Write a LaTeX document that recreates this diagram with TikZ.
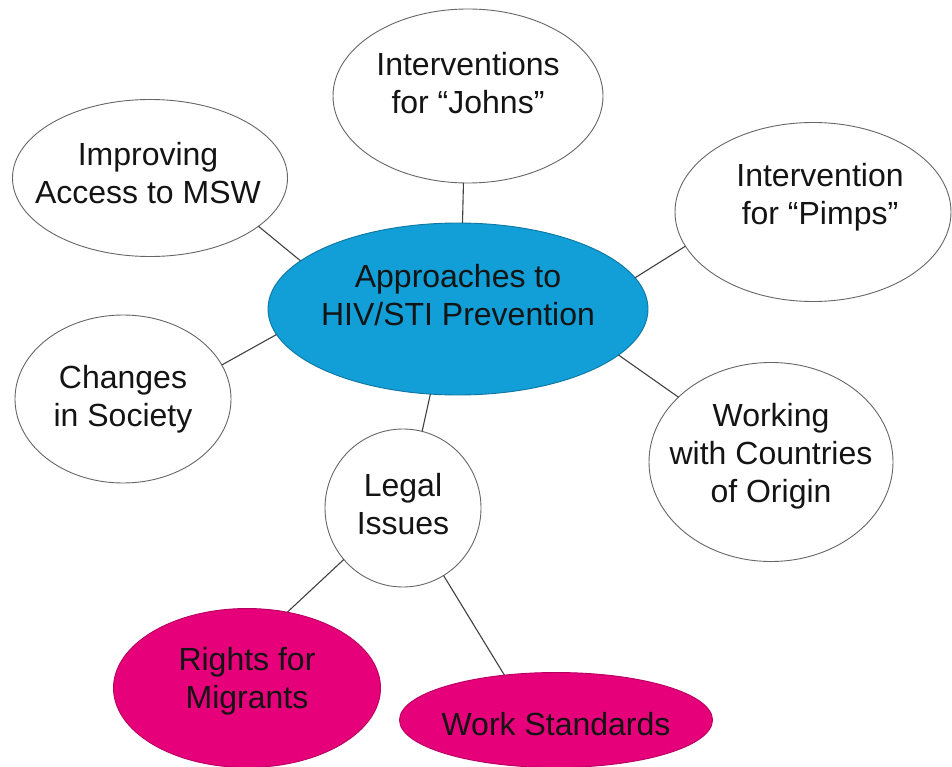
\documentclass[tikz,border=0pt]{standalone}
\usepackage{fontspec}
\setmainfont{Liberation Sans}
\usetikzlibrary{shapes.geometric}
\definecolor{pBlue}{RGB}{18,158,214}
\definecolor{pPink}{RGB}{230,0,122}
\definecolor{pLine}{gray}{0.25}
\tikzset{
    bub/.style={ellipse, draw=pLine!80, line width=0.9pt, fill=white, inner sep=0pt, outer sep=0pt},
    txt/.style={align=center, text=black!92, font=\fontsize{32}{38}\selectfont, inner sep=0pt},
    link/.style={draw=pLine, line width=1.1pt}
}

\begin{document}
\begin{tikzpicture}[x=1pt,y=-1pt]
\useasboundingbox (0,0) rectangle (952,767);
\node[bub, fill=pBlue, draw=pBlue!75!black, minimum width=380, minimum height=172,
      label={[txt, yshift=14]center:Approaches to\\HIV/STI Prevention}] (appr) at (458,309) {};
\node[bub, minimum width=270, minimum height=174,
      label={[txt, yshift=13]center:Interventions\\for “Johns”}] (johns) at (468,96) {};
\node[bub, minimum width=275, minimum height=157,
      label={[txt, yshift=5, xshift=-2]center:Improving\\Access to MSW}] (impr) at (150,178) {};
\node[bub, minimum width=276, minimum height=179,
      label={[txt, yshift=15, xshift=7]center:Intervention\\for “Pimps”}] (pimps) at (813,212) {};
\node[bub, minimum width=216, minimum height=168,
      label={[txt]center:Changes\\in Society}] (chng) at (123,399) {};
\node[bub, minimum width=244, minimum height=199,
      label={[txt, yshift=6]center:Working\\with Countries\\of Origin}] (work) at (771,462) {};
\node[bub, minimum width=156, minimum height=158,
      label={[txt, yshift=4]center:Legal\\Issues}] (legal) at (403,508) {};
\node[bub, fill=pPink, draw=pPink!80!black, minimum width=267, minimum height=159,
      label={[txt, yshift=7]center:Rights for\\Migrants}] (rights) at (247,688) {};
\node[bub, fill=pPink, draw=pPink!80!black, minimum width=313, minimum height=95,
      label={[txt, yshift=-4]center:Work Standards}] (wstd) at (556,720) {};
\draw[link] (impr.-24) -- (appr.163);
\draw[link] (johns.-93) -- (appr.87);
\draw[link] (pimps.-165) -- (appr.10);
\draw[link] (chng.19) -- (appr.-172);
\draw[link] (work.145) -- (appr.-16);
\draw[link] (legal.76) -- (appr.-108);
\draw[link] (legal.-139) -- (rights.62);
\draw[link] (legal.-59) -- (wstd.139);
\end{tikzpicture}
\end{document}
